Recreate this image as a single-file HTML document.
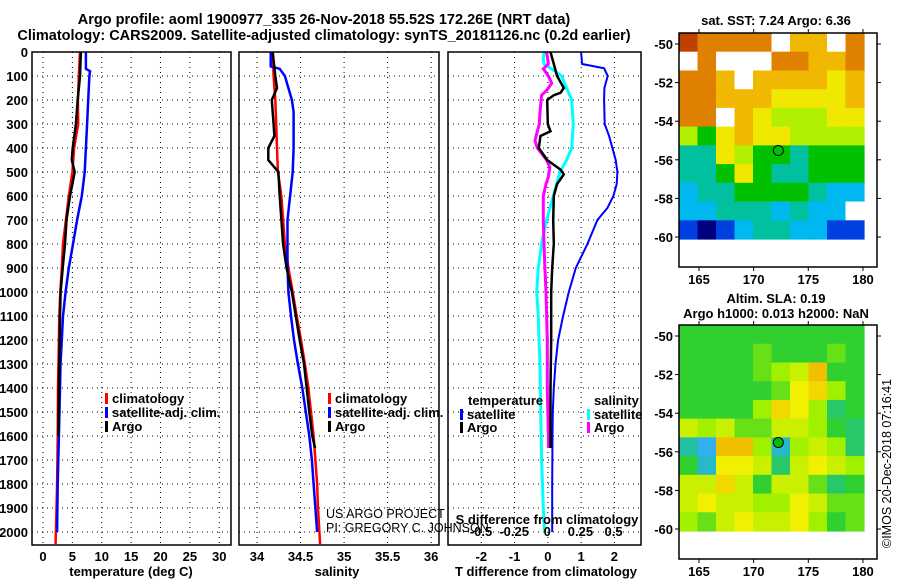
<!DOCTYPE html>
<html><head><meta charset="utf-8"><style>
html,body{margin:0;padding:0;background:#fff;width:900px;height:580px;overflow:hidden}
svg{display:block}
text{font-family:"Liberation Sans",sans-serif}
.b{font-weight:bold;font-size:13px}
.t{font-weight:bold;font-size:14.5px}
</style></head><body>
<svg id="c" width="900" height="580" xmlns="http://www.w3.org/2000/svg">
<text class="t" x="324" y="24" text-anchor="middle">Argo profile: aoml 1900977_335 26-Nov-2018 55.52S 172.26E (NRT data)</text>
<text class="t" x="324" y="40" text-anchor="middle">Climatology: CARS2009. Satellite-adjusted climatology: synTS_20181126.nc (0.2d earlier)</text>
</svg>
<script>
// ---- data ----
const depthTicks=[0,100,200,300,400,500,600,700,800,900,1000,1100,1200,1300,1400,1500,1600,1700,1800,1900,2000];
const tTicks=[0,5,10,15,20,25,30];
const sTicks=[34,34.5,35,35.5,36];
const sTickLabels=["34","34.5","35","35.5","36"];
const dTTicks=[-2,-1,0,1,2];
const dSTicks=[-0.5,-0.25,0,0.25,0.5];
const dSTickLabels=["-0.5","-0.25","0","0.25","0.5"];

const tClimDepth=[0,100,200,300,400,500,600,700,800,900,1000,1100,1200,1400,1600,1800,2000,2050];
const tClim=[6.3,6.1,5.95,6.0,5.3,5.0,4.4,3.9,3.4,3.2,2.95,2.77,2.7,2.55,2.5,2.4,2.2,2.15];
const tSatDepth=[0,70,80,100,200,300,400,500,600,700,800,900,1000,1100,1200,1300,1400,1600,1800,2000];
const tSat=[7.3,7.3,8.0,7.9,7.7,7.5,7.3,7.1,6.6,5.8,5.1,4.4,3.85,3.4,3.2,2.98,2.9,2.7,2.5,2.4];
const tArgoDepth=[0,100,200,300,400,450,500,600,700,800,900,1000,1100,1200,1400,1600];
const tArgo=[6.46,6.3,5.9,5.6,5.05,4.9,5.4,4.6,4.0,3.75,3.35,3.0,2.9,2.85,2.7,2.6];

const sClimDepth=[0,100,200,300,400,500,600,700,800,900,1000,1100,1200,1300,1400,1500,1600,1700,1800,1900,2000,2050];
const sClim=[34.18,34.19,34.21,34.22,34.23,34.24,34.28,34.30,34.32,34.36,34.41,34.456,34.505,34.55,34.59,34.62,34.65,34.67,34.69,34.70,34.716,34.724];
const sSatDepth=[0,60,70,100,150,200,250,400,500,600,700,800,900,1000,1100,1200,1300,1400,1500,1600,1700,1800,1900,2000];
const sSat=[34.157,34.157,34.26,34.32,34.36,34.40,34.42,34.42,34.41,34.38,34.35,34.35,34.35,34.36,34.39,34.425,34.47,34.52,34.56,34.60,34.63,34.65,34.67,34.69];
const sArgoDepth=[0,100,150,200,300,350,400,450,500,600,700,800,900,1000,1100,1200,1300,1400,1500,1600,1650];
const sArgo=[34.18,34.21,34.23,34.17,34.19,34.2,34.13,34.13,34.245,34.26,34.28,34.30,34.34,34.40,34.445,34.49,34.54,34.57,34.60,34.635,34.667];

const dTSatDepth=[0,50,68,100,150,200,300,350,400,450,500,550,600,650,700,800,900,1000,1100,1200,1300,1400,1500,1600,1800,2000];
const dTSat=[1.0,1.03,1.69,1.8,1.7,1.69,1.71,1.84,1.94,2.04,2.09,2.07,1.97,1.79,1.49,1.19,0.84,0.63,0.46,0.31,0.23,0.18,0.15,0.14,0.13,0.13];
const dTArgoDepth=[0,50,100,150,170,180,200,300,330,350,400,450,490,510,550,600,700,800,900,1000,1200,1400,1600,1650];
const dTArgo=[0.08,0.18,0.28,0.48,0.38,0.18,-0.02,0,0.08,-0.22,-0.27,-0.02,0.38,0.48,0.28,0.18,0.16,0.18,0.13,0.1,0.1,0.08,0.08,0.08];
const dSSatDepth=[0,30,50,80,100,150,200,300,400,450,500,600,700,800,900,1000,1100,1200,1300,1500,1700,1900,2000];
const dSSat=[-0.025,-0.03,-0.025,0.058,0.108,0.146,0.184,0.196,0.184,0.146,0.096,0.045,-0.005,-0.043,-0.068,-0.08,-0.068,-0.063,-0.055,-0.05,-0.043,-0.03,-0.02];
const dSArgoDepth=[0,50,70,100,130,160,180,250,300,340,370,400,450,480,520,550,600,700,800,900,1000,1200,1400,1600,1650];
const dSArgo=[-0.005,0.008,-0.03,0.008,0.033,-0.005,-0.043,-0.055,-0.06,-0.08,-0.093,-0.075,-0.005,0.02,0.008,-0.01,-0.03,-0.03,-0.025,-0.018,-0.01,0,0,0.008,0.01];

const mapLonTicks=[165,170,175,180];
const mapLatTicks=[-50,-52,-54,-56,-58,-60];
const sstGrid=[
[9,8,8,8,8,-1,7,7,-1,8],
[-1,8,-1,-1,-1,8,8,7,7,8],
[8,8,7,-1,7,7,7,7,6,7],
[8,8,7,7,7,6,6,6,6,7],
[8,8,-1,7,6,5,5,5,6,6],
[5,4,6,7,6,6,5,5,5,5],
[3,3,6,5,4,4,3,4,4,4],
[3,3,4,6,4,3,3,4,4,4],
[2,3,3,4,4,4,4,3,2,2],
[2,2,3,3,3,2,3,2,2,-1],
[1,0,1,2,3,3,2,2,1,1]];
const slaGrid=[
[4,4,4,4,4,4,4,4,4,4],
[4,4,4,4,4.5,4,4,4,4.5,4],
[4,4,4,4,4.5,5,5.5,7,4,4],
[4,4,4,4,4,4.5,6,6.5,5,4],
[4,4,4,4,5,6.5,6,5,3.5,4],
[5.5,5,5.5,4.5,4.5,5.5,5.5,5,4,3.5],
[3,2,7,7,5,2.5,5,5.5,5,3.5],
[4,2.5,6,6,5.5,3.5,5.5,6,5.5,5],
[5.5,5.5,6.5,5.5,4,5.5,5.5,4.5,3.5,4],
[5.5,6,5.5,5.5,5,5,6,5.5,4.5,4.5],
[5,4.5,5.5,6,5.5,5.5,6,5,4,4.5]];
const floatLon=172.26, floatLat=-55.52;

// ---- drawing ----
const svg=document.getElementById('c');
const NS='http://www.w3.org/2000/svg';
function el(tag,attrs,parent){const e=document.createElementNS(NS,tag);for(const k in attrs)e.setAttribute(k,attrs[k]);(parent||svg).appendChild(e);return e;}
function txt(s,attrs){const e=el('text',attrs);e.textContent=s;return e;}
const Y0=52,PY=0.24,YB=545;
const yD=d=>Y0+d*PY;

function panel(name,x0,x1,vmin,vmax){
  const sx=v=>x0+(v-vmin)/(vmax-vmin)*(x1-x0);
  const g=el('g',{});
  
  
  return {sx,g,x0,x1};
}
function grid(p,xt,sx){
  depthTicks.forEach(d=>{const l=el('line',{x1:p.x0,x2:p.x1,y1:yD(d),y2:yD(d),stroke:'#000','stroke-width':1,'stroke-dasharray':'1,4'},p.g);
    });
  xt.forEach(v=>{const l=el('line',{x1:sx(v),x2:sx(v),y1:Y0,y2:YB,stroke:'#000','stroke-width':1,'stroke-dasharray':'1,4'},p.g);
    });
}
function frame(p){const r=el('rect',{x:p.x0,y:Y0,width:p.x1-p.x0,height:YB-Y0,fill:'none',stroke:'#000','stroke-width':1.5},p.g);
  }
function line(p,sx,depths,vals,color,w,name){
  const pts=depths.map((d,i)=>sx(vals[i]).toFixed(1)+','+yD(d).toFixed(1)).join(' ');
  const l=el('polyline',{points:pts,fill:'none',stroke:color,'stroke-width':w},p.g);
  
}
function xlabels(sx,ticks,labels,y){ticks.forEach((v,i)=>{const t=txt(labels?labels[i]:String(v),{x:sx(v),y:y,'text-anchor':'middle',class:'b'});
  });}

// depth labels
depthTicks.forEach(d=>{const t=txt(String(d),{x:28,y:yD(d)+5,'text-anchor':'end',class:'b'});
  });

// panel 1 temperature
const p1=panel('temperature-panel',32,231,-1.87,32.0);
grid(p1,tTicks,p1.sx);
line(p1,p1.sx,tClimDepth,tClim,'#f00',2.5,'temperature-climatology-line');
line(p1,p1.sx,tSatDepth,tSat,'#00f',2.5,'temperature-satellite-line');
line(p1,p1.sx,tArgoDepth,tArgo,'#000',2.5,'temperature-argo-line');
frame(p1);
xlabels(p1.sx,tTicks,null,561);
txt('temperature (deg C)',{x:131,y:576,'text-anchor':'middle',class:'b'});

// panel 2 salinity
const p2=panel('salinity-panel',239,439,33.793,36.09);
grid(p2,sTicks,p2.sx);
line(p2,p2.sx,sClimDepth,sClim,'#f00',2.5,'salinity-climatology-line');
line(p2,p2.sx,sSatDepth,sSat,'#00f',2.5,'salinity-satellite-line');
line(p2,p2.sx,sArgoDepth,sArgo,'#000',2.5,'salinity-argo-line');
frame(p2);
xlabels(p2.sx,sTicks,sTickLabels,561);
txt('salinity',{x:337,y:576,'text-anchor':'middle',class:'b'});

// panel 3 differences
const p3=panel('difference-panel',448,641,-3.0,2.8);
const sxS=v=>547.3+v*132.5;
grid(p3,dTTicks,p3.sx);
line(p3,p3.sx,dTSatDepth,dTSat,'#00f',2,'t-diff-satellite-line');
line(p3,sxS,dSSatDepth,dSSat,'#0ff',3,'s-diff-satellite-line');
line(p3,sxS,dSArgoDepth,dSArgo,'#f0f',3,'s-diff-argo-line');
line(p3,p3.sx,dTArgoDepth,dTArgo,'#000',2.5,'t-diff-argo-line');
frame(p3);
xlabels(p3.sx,dTTicks,null,561);
xlabels(sxS,dSTicks,dSTickLabels,536);
txt('T difference from climatology',{x:546,y:576,'text-anchor':'middle',class:'b'});
txt('S difference from climatology',{x:547,y:524,'text-anchor':'middle',class:'b'});

// legends
function legend(x,y,color,label,name){
  const r=el('rect',{x:x,y:y-10,width:3,height:11,fill:color});
  
  const t=txt(label,{x:x+7,y:y,class:'b'});
}
[[p1,105],[p2,328]].forEach(([p,x],i)=>{
  legend(x,403,'#f00','climatology','legend-climatology');
  legend(x,417,'#00f','satellite-adj. clim.','legend-satellite');
  legend(x,431,'#000','Argo','legend-argo');
});
txt('temperature',{x:468,y:405,class:'b'});
legend(460,419,'#00f','satellite','legend-t-satellite');
legend(460,432,'#000','Argo','legend-t-argo');
txt('salinity',{x:594,y:405,class:'b'});
legend(587,419,'#0ff','satellite','legend-s-satellite');
legend(587,432,'#f0f','Argo','legend-s-argo');
txt('US ARGO PROJECT',{x:326,y:518,'font-size':'12.5px'});
txt('PI: GREGORY C. JOHNSON',{x:326,y:532,'font-size':'12.5px'});

// ---- maps ----
const cmap=['#000080','#0040e0','#00b8f0','#00c0a0','#00c000','#b0f000','#f0e800','#f0b800','#e08000','#c04000','#a02000'];
const cmap2=['#000080','#2050e0','#30b0f0','#20c0a0','#30d030','#a0f000','#f0f000','#f0c000','#e08000','#c04000','#a02000'];
function col(v,cm){if(v<0)return '#fff';const i=Math.floor(v),f=v-i;if(f<0.01||i>=cm.length-1)return cm[Math.min(i,cm.length-1)];
  const a=cm[i],b=cm[i+1];const h=s=>[1,3,5].map(k=>parseInt(s.substr(k,2),16));const A=h(a),B=h(b);
  return 'rgb('+A.map((x,j)=>Math.round(x+(B[j]-x)*f)).join(',')+')';}
function map(name,top,data,cm,titles){
  const fx0=679,fx1=877,fy0=top,fy1=top+234;
  const dx0=679,dx1=864,dy0=top,dy1=top+206;
  const lonX=l=>699+(l-165)*10.93;
  const latY=l=>top+11+(-50-l)*19.3;
  const g=el('g',{});
  const rows=data.length,cols=data[0].length,cw=(dx1-dx0)/cols,ch=(dy1-dy0)/rows;
  data.forEach((row,r)=>row.forEach((v,c)=>{
    const rc=el('rect',{x:(dx0+c*cw).toFixed(1),y:(dy0+r*ch).toFixed(1),width:(cw+0.6).toFixed(1),height:(ch+0.6).toFixed(1),fill:col(v,cm)},g);
    
  }));
  const f=el('rect',{x:fx0,y:fy0,width:fx1-fx0,height:fy1-fy0,fill:'none',stroke:'#000','stroke-width':1.5},g);
  
  mapLonTicks.forEach(l=>{el('line',{x1:lonX(l),x2:lonX(l),y1:fy1,y2:fy1+4,stroke:'#000'},g);el('line',{x1:lonX(l),x2:lonX(l),y1:fy0,y2:fy0-4,stroke:'#000'},g);
    const t=txt(String(l),{x:lonX(l),y:fy1+17,'text-anchor':'middle',class:'b'});});
  mapLatTicks.forEach(l=>{el('line',{x1:fx0,x2:fx0-4,y1:latY(l),y2:latY(l),stroke:'#000'},g);el('line',{x1:fx1,x2:fx1+4,y1:latY(l),y2:latY(l),stroke:'#000'},g);
    const t=txt(String(l),{x:673,y:latY(l)+5,'text-anchor':'end',class:'b'});});
  const m=el('circle',{cx:lonX(floatLon),cy:latY(floatLat),r:5,fill:'#00c000',stroke:'#000','stroke-width':1},g);
  
  titles.forEach(([s,y,n])=>{const t=txt(s,{x:776,y:y,'text-anchor':'middle',class:'b'});});
}
map('sst-map',33,sstGrid,cmap,[['sat. SST: 7.24 Argo: 6.36',25,'sst-map-title']]);
map('sla-map',325,slaGrid,cmap2,[['Altim. SLA: 0.19',303,'sla-map-title'],['Argo h1000: 0.013 h2000: NaN',318,'sla-map-subtitle']]);
const cr=txt('©IMOS 20-Dec-2018 07:16:41',{x:0,y:0,'font-size':'12.5px',transform:'translate(891,548) rotate(-90)'});

</script>
</body></html>
